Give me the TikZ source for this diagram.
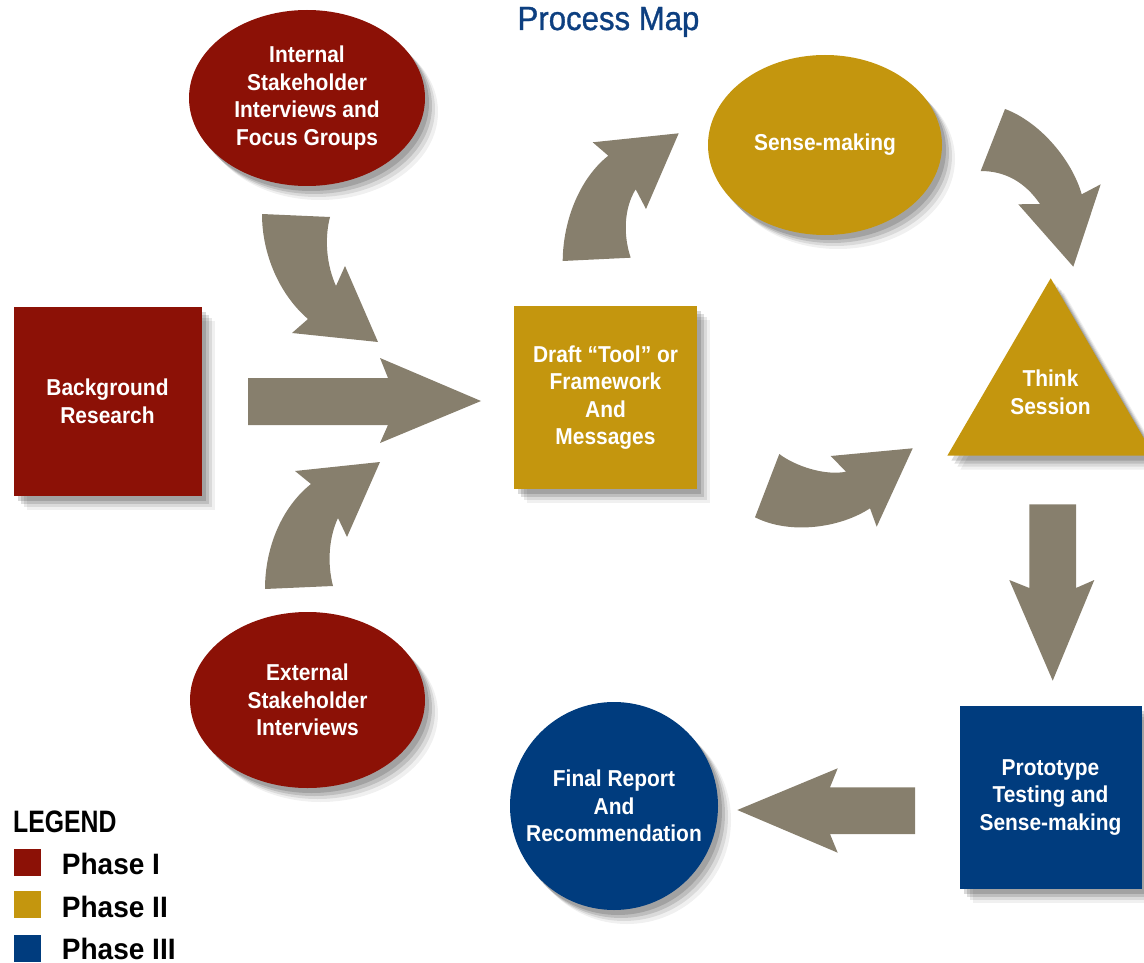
\documentclass[tikz,border=0pt]{standalone}
\usepackage{fontspec}
\usetikzlibrary{shapes.geometric,shadows}
\newfontfamily\nodefont{Liberation Sans}[FakeStretch=0.91]
\newfontfamily\titlefont{Liberation Sans}[FakeStretch=0.93,FakeBold=1]
\newfontfamily\legendfont{Liberation Sans}[FakeStretch=0.80]
\newfontfamily\phasefont{Liberation Sans}[FakeStretch=0.95]
\definecolor{pred}{RGB}{140,17,6}
\definecolor{pgold}{RGB}{196,150,14}
\definecolor{pblue}{RGB}{0,60,126}
\definecolor{agray}{RGB}{135,127,109}
\definecolor{ptitle}{RGB}{13,63,128}
\begin{document}
\begin{tikzpicture}[x=1pt,y=-1pt,
  sh/.style={drop shadow={shadow xshift=13pt,shadow yshift=-14pt,opacity=0.06,fill=black},
             drop shadow={shadow xshift=10pt,shadow yshift=-11pt,opacity=0.09,fill=black},
             drop shadow={shadow xshift=7pt,shadow yshift=-8pt,opacity=0.13,fill=black},
             drop shadow={shadow xshift=4pt,shadow yshift=-5pt,opacity=0.15,fill=black}},
  lbl/.style={inner sep=0pt, text=white, align=center,
              font=\nodefont\bfseries\fontsize{23}{27.5}\selectfont},
  box/.style={lbl, sh, rectangle},
  ell/.style={lbl, sh, ellipse, inner xsep=-40pt, inner ysep=-20pt},
  barrow/.style={fill=agray, draw=none},
  key/.style={inner sep=0pt, minimum size=27pt, anchor=north west},
  phase/.style={anchor=base west, inner sep=0pt,
                font=\phasefont\bfseries\fontsize{29.5}{34}\selectfont}
]
\useasboundingbox (0,0) rectangle (1144,963);
\clip (0,0) rectangle (1144,963);

% title
\node[anchor=base, inner sep=0pt, text=ptitle,
      font=\titlefont\fontsize{33.5}{40}\selectfont] (title) at (608.5,30) {Process Map};

% nodes
\node[ell, fill=pred, minimum width=236pt, minimum height=176pt] (internal) at (307,98)
  {Internal\\Stakeholder\\Interviews and\\Focus Groups};
\node[box, fill=pred, minimum width=188pt, minimum height=189pt] (background) at (107.5,401.2)
  {\raisebox{3pt}{\parbox{180pt}{\centering Background\\Research}}};
\node[ell, fill=pred, minimum width=235pt, minimum height=176pt] (external) at (307.5,700)
  {External\\Stakeholder\\Interviews};
\node[box, fill=pgold, minimum width=183pt, minimum height=183pt] (draft) at (605.5,397.5)
  {\raisebox{-2pt}{\parbox{180pt}{\centering Draft “Tool” or\\Framework\\And\\Messages}}};
\node[ell, fill=pgold, minimum width=234pt, minimum height=180pt] (sense) at (825,145)
  {Sense-making};
\fill[pgold, sh] (1050.7,278.3) -- (947.3,455.7) -- (1154,455.7) -- cycle;
\node[lbl] (think) at (1050.5,392.5) {Think\\Session};
\node[box, fill=pblue, minimum width=182pt, minimum height=183pt] (proto) at (1050.5,797.5)
  {\raisebox{2pt}{\parbox{180pt}{\centering Prototype\\Testing and\\Sense-making}}};
\node[ell, fill=pblue, minimum width=208pt, minimum height=208pt] (final) at (614,806)
  {Final Report\\And\\Recommendation};

% block arrows
% background -> draft (straight)
\fill[barrow] (248,378) -- (388,378) -- (380,358) -- (481,401) -- (380,443) -- (388,425) -- (248,425) -- cycle;
% internal -> draft
\fill[barrow] (262,214) -- (330,217) .. controls (324,240) and (327,266) .. (336,286)
  -- (345,266) -- (378,342) -- (292,333) -- (308,319)
  .. controls (280,295) and (262,255) .. (262,214) -- cycle;
% external -> draft
\fill[barrow] (265,589) -- (333,586) .. controls (327,563) and (329,537) .. (338,518)
  -- (347,537) -- (380,462) -- (295,471) -- (311,484)
  .. controls (282,507) and (265,547) .. (265,589) -- cycle;
% draft -> sense
\fill[barrow] (562.7,261) -- (630.7,257.7) .. controls (623,235) and (624,208) .. (635.7,189.3)
  -- (646,209) -- (678.7,133.3) -- (592.7,142.3) -- (608.3,155.7)
  .. controls (580,178) and (563,220) .. (562.7,261) -- cycle;
% sense -> think
\fill[barrow] (1005,109) .. controls (1040,122) and (1072,160) .. (1081.7,194.3)
  -- (1100.7,184.3) -- (1073.3,266.7) -- (1018.3,204.3) -- (1040,204)
  .. controls (1025,182) and (1005,171) .. (980.7,171) -- cycle;
% draft -> think (lower)
\fill[barrow] (779.3,454) .. controls (795,466) and (825,476) .. (846,471.7)
  -- (830.7,456) -- (912.7,448.3) -- (876.7,526.7) -- (870,508.3)
  .. controls (840,528) and (790,535) .. (755,517.3) -- cycle;
% think -> prototype
\fill[barrow] (1029.3,504.3) -- (1076,504.3) -- (1076,588) -- (1094.3,580) -- (1052.7,680.7)
  -- (1009.3,580) -- (1029.3,588) -- cycle;
% prototype -> final
\fill[barrow] (915,787.3) -- (830,787.3) -- (837.7,768.3) -- (737.3,810) -- (837.7,852.7)
  -- (830,834) -- (915,834) -- cycle;

% legend
\node[anchor=base west, inner sep=0pt,
      font=\legendfont\bfseries\fontsize{31}{36}\selectfont] (legend) at (13,832.3) {LEGEND};
\node[key, fill=pred] (k1) at (14,848.3) {};
\node[key, fill=pgold] (k2) at (14,891) {};
\node[key, fill=pblue] (k3) at (14,934.3) {};
\node[phase] (p1) at (61.7,874) {Phase I};
\node[phase] (p2) at (61.7,917.3) {Phase II};
\node[phase] (p3) at (61.7,959) {Phase III};
\end{tikzpicture}
\end{document}
